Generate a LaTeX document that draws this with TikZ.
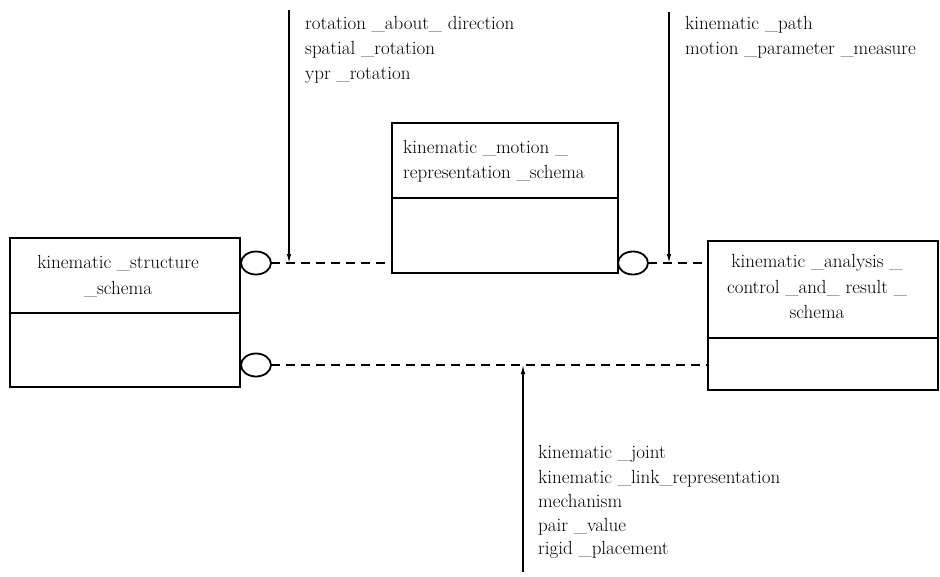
\documentclass[tikz,border=0pt]{standalone}
\usepackage{tikz}
\usetikzlibrary{shapes.geometric,arrows.meta}
\newcommand{\kmFont}{\fontsize{19}{25}\selectfont}

\begin{document}
\begin{tikzpicture}[x=1pt,y=-1pt,
  kmpart/.style={draw, line width=2.6pt, inner sep=0pt, outer sep=0pt, anchor=north west},
  kmport/.style={draw, ellipse, line width=1.8pt, minimum width=30, minimum height=23, inner sep=0pt, outer sep=0pt},
  kmlink/.style={line width=1.8pt, dash pattern=on 9pt off 6pt},
  kmarrow/.style={line width=1.3pt, -{Latex[length=9pt,width=4.5pt]}},
  kmtext/.style={anchor=base west, inner sep=0pt, font=\kmFont},
  kmtitle/.style={anchor=base, inner sep=0pt, font=\kmFont}]
\useasboundingbox (0,0) rectangle (940,576);
\node[kmpart, minimum width=230, minimum height=75] (structTop) at (10,238) {};
\node[kmpart, minimum width=230, minimum height=74] (structBot) at (structTop.south west) {};
\node[kmpart, minimum width=226, minimum height=75] (motionTop) at (392,123) {};
\node[kmpart, minimum width=226, minimum height=75] (motionBot) at (motionTop.south west) {};
\node[kmpart, minimum width=230, minimum height=97] (analysisTop) at (708,241) {};
\node[kmpart, minimum width=230, minimum height=52] (analysisBot) at (analysisTop.south west) {};
\node[kmtitle] (structTitleA) at (118,268) {kinematic \_structure};
\node[kmtitle] (structTitleB) at (118,294) {\_schema};
\node[kmtext] (motionTitleA) at (403,153) {kinematic \_motion \_};
\node[kmtext] (motionTitleB) at (403,178) {representation \_schema};
\node[kmtitle] (analysisTitleA) at (817,267) {kinematic \_analysis \_};
\node[kmtitle] (analysisTitleB) at (817,293) {control \_and\_ result \_};
\node[kmtitle] (analysisTitleC) at (817,318) {schema};
\node[kmport] (structPortA) at (256,263) {};
\node[kmport] (structPortB) at (256,365) {};
\node[kmport] (motionPort) at (633,263) {};
\draw[kmlink] (structPortA.east) -- (structPortA.east -| motionBot.west);
\draw[kmlink] (motionPort.east) -- (motionPort.east -| analysisTop.west);
\draw[kmlink] (structPortB.east) -- (structPortB.east -| analysisBot.west);
\coordinate (rotFrom) at (289,10);
\coordinate (rotTo) at (289,263);
\coordinate (pathFrom) at (669,12);
\coordinate (pathTo) at (669,263);
\coordinate (jointFrom) at (523,572);
\coordinate (jointTo) at (523,365);
\draw[kmarrow] (rotFrom) -- (rotTo);
\draw[kmarrow] (pathFrom) -- (pathTo);
\draw[kmarrow] (jointFrom) -- (jointTo);
\node[kmtext] (rotLabelA) at (305,29) {rotation \_about\_ direction};
\node[kmtext] (rotLabelB) at (305,54) {spatial \_rotation};
\node[kmtext] (rotLabelC) at (305,79) {ypr \_rotation};
\node[kmtext] (pathLabelA) at (685,29) {kinematic \_path};
\node[kmtext] (pathLabelB) at (685,54) {motion \_parameter \_measure};
\node[kmtext] (jointLabelA) at (538,458) {kinematic \_joint};
\node[kmtext] (jointLabelB) at (538,483) {kinematic \_link\_representation};
\node[kmtext] (jointLabelC) at (538,507) {mechanism};
\node[kmtext] (jointLabelD) at (538,531) {pair \_value};
\node[kmtext] (jointLabelE) at (538,554) {rigid \_placement};
\end{tikzpicture}
\end{document}
